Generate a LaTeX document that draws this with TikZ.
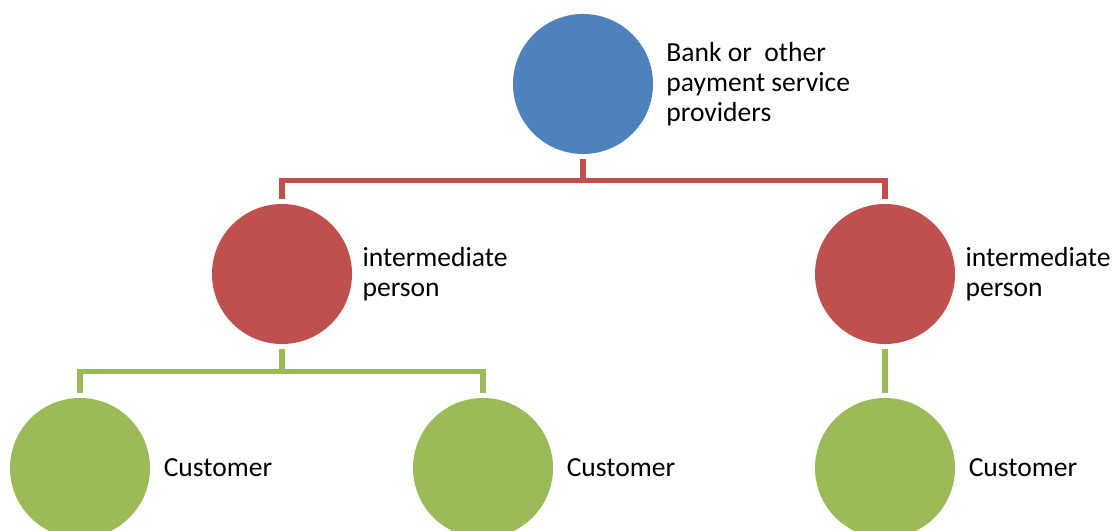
\documentclass[tikz,border=0pt]{standalone}
\usepackage{fontspec}
\setmainfont{Carlito}
\usepackage{tikz}
\usetikzlibrary{positioning}
\definecolor{bankblue}{HTML}{4F81BD}
\definecolor{midred}{HTML}{C0504D}
\definecolor{custgreen}{HTML}{9BBB59}

\begin{document}
\begin{tikzpicture}[x=0.025cm,y=-0.025cm,
  disc/.style={circle,minimum size=3.5cm,inner sep=0pt},
  lbl/.style={align=left,inner sep=0pt,font=\fontsize{19.6}{21.5}\selectfont},
  link/.style={line width=3.6pt,shorten <=0.12cm,shorten >=0.12cm}]
\useasboundingbox (0,0) rectangle (1115,531);
\node[disc,fill=bankblue] (bank) at (583,84) {};
\node[disc,fill=midred] (mid1) at (282,274) {};
\node[disc,fill=midred] (mid2) at (885,274) {};
\node[disc,fill=custgreen] (cust1) at (80,468) {};
\node[disc,fill=custgreen] (cust2) at (483,468) {};
\node[disc,fill=custgreen] (cust3) at (885,468) {};
\node[lbl,right=0.32cm of bank] (banktxt) {Bank or\ \ other\\payment service\\providers};
\node[lbl,right=0.25cm of mid1] (mid1txt) {intermediate\\person};
\node[lbl,right=0.25cm of mid2] (mid2txt) {intermediate\\person};
\node[lbl,right=0.33cm of cust1] (cust1txt) {Customer};
\node[lbl,right=0.33cm of cust2] (cust2txt) {Customer};
\node[lbl,right=0.33cm of cust3] (cust3txt) {Customer};
\draw[link,midred] (bank.south) -- ++(0,26) -| (mid1.north);
\draw[link,midred] (bank.south) -- ++(0,26) -| (mid2.north);
\draw[link,custgreen] (mid1.south) -- ++(0,27) -| (cust1.north);
\draw[link,custgreen] (mid1.south) -- ++(0,27) -| (cust2.north);
\draw[link,custgreen] (mid2.south) -- (cust3.north);
\end{tikzpicture}
\end{document}
